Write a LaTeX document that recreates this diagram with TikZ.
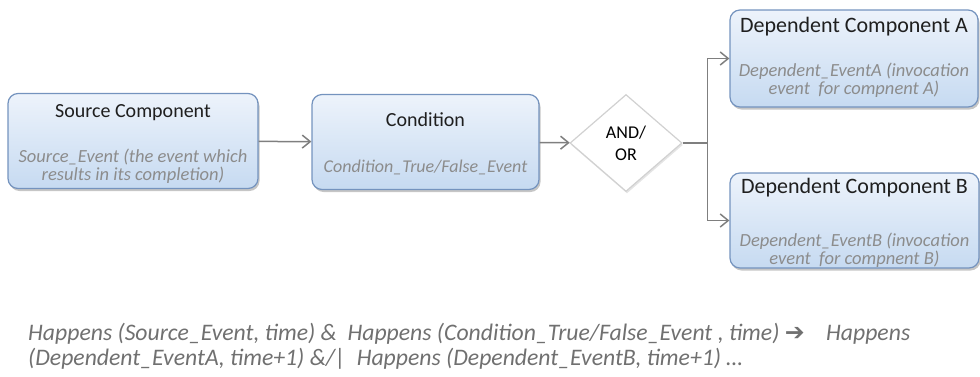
\documentclass[tikz,border=0pt]{standalone}
\usepackage{fontspec}
\setmainfont{Carlito}
\newfontfamily\symfont{DejaVu Sans}
\usepackage{tikz}
\usetikzlibrary{arrows.meta,positioning,calc,shapes.geometric,shadows}
\definecolor{boxline}{HTML}{7493BE}
\definecolor{boxtop}{HTML}{EDF3FB}
\definecolor{boxbot}{HTML}{C6DAF1}
\definecolor{evgray}{HTML}{8C8C8C}
\definecolor{rulegray}{HTML}{707070}
\definecolor{linkgray}{HTML}{7F7F7F}
\tikzset{
  compbox/.style={draw=boxline, line width=1.2pt, rounded corners=10pt, top color=boxtop, bottom color=boxbot, inner sep=0pt,
    drop shadow={shadow xshift=1.5pt, shadow yshift=-2.5pt, fill=black!50, opacity=0.45}},
  gate/.style={diamond, draw=black!18, line width=1.2pt, fill=white, inner sep=0pt, align=center, font=\fontsize{18}{22}\selectfont,
    drop shadow={shadow xshift=1pt, shadow yshift=-2pt, fill=black!30, opacity=0.35}},
  boxtitle/.style={align=center, inner sep=0pt, text=black!88, font=\fontsize{20}{24}\selectfont},
  bigtitle/.style={boxtitle, font=\fontsize{22}{26}\selectfont},
  evtext/.style={align=center, inner sep=0pt, text=evgray, font=\fontsize{18.5}{18.5}\itshape},
  ruletext/.style={align=left, inner sep=0pt, text=rulegray, font=\fontsize{23.7}{25.5}\itshape},
  arrow/.style={-{Straight Barb[length=8pt,width=13pt,line width=1.5pt]}, draw=linkgray, line width=1.5pt},
  link/.style={draw=linkgray, line width=1.5pt}
}
\begin{document}
\begin{tikzpicture}[x=1pt, y=-1pt]
\useasboundingbox (0,0) rectangle (980,376);
\node[compbox, minimum width=250pt, minimum height=95pt] (src) at (133,141) {};
\node[boxtitle] (srct) at (133,113) {Source Component};
\node[evtext] (srce) at (133,166) {Source\_Event (the event which\\results in its completion)};
\node[compbox, minimum width=227pt, minimum height=95pt] (cond) at (425.5,142) {};
\node[boxtitle] (condt) at (425.5,120) {Condition};
\node[evtext, font=\fontsize{18}{18}\itshape] (conde) at (425.5,167) {Condition\_True/False\_Event};
\node[gate, minimum width=112pt, minimum height=97pt] (gate) at (626,143) {AND/\\OR};
\node[compbox, minimum width=248pt, minimum height=97pt] (depa) at (854,58.5) {};
\node[bigtitle] (depat) at (854,27) {Dependent Component A};
\node[evtext] (depae) at (854,80) {Dependent\_EventA (invocation\\event\ \ for compnent A)};
\node[compbox, minimum width=249pt, minimum height=95pt] (depb) at (854.5,220.5) {};
\node[bigtitle] (depbt) at (854.5,188) {Dependent Component B};
\node[evtext] (depbe) at (854.5,250) {Dependent\_EventB (invocation\\event\ \ for compnent B)};
\node[ruletext, anchor=west] (rule) at (28,346) {Happens (Source\_Event, time) \&\ \ Happens (Condition\_True/False\_Event , time) {\symfont\upshape ➔}\ \ \ \ Happens\\(Dependent\_EventA, time+1) \&/|\ \ Happens (Dependent\_EventB, time+1) …};
\draw[arrow] (src) -- (cond);
\draw[arrow] (cond) -- (gate);
\draw[link] (gate.east) -- ++(25,0) coordinate (split);
\draw[arrow] (split) |- (depa.west);
\draw[arrow] (split) |- (depb.west);
\end{tikzpicture}
\end{document}
